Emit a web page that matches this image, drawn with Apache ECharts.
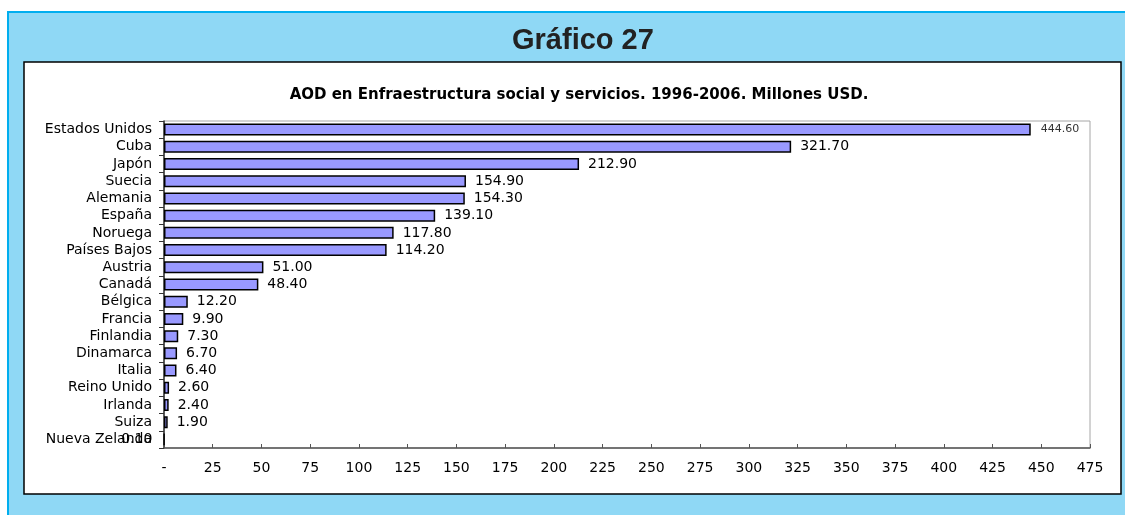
<!DOCTYPE html>
<html>
<head>
<meta charset="utf-8">
<script src="https://cdn.jsdelivr.net/npm/echarts@6/dist/echarts.min.js"></script>
<style>
  html, body { margin: 0; padding: 0; background: #fff; }
  #chart { width: 1125px; height: 515px; }
</style>
</head>
<body>
<div id="chart"></div>
<script>
const countries = ['Estados Unidos', 'Cuba', 'Japón', 'Suecia', 'Alemania', 'España', 'Noruega',
    'Países Bajos', 'Austria', 'Canadá', 'Bélgica', 'Francia', 'Finlandia', 'Dinamarca', 'Italia',
    'Reino Unido', 'Irlanda', 'Suiza', 'Nueva Zelanda'];
const amounts = [444.6, 321.7, 212.9, 154.9, 154.3, 139.1, 117.8, 114.2, 51.0, 48.4, 12.2, 9.9,
    7.3, 6.7, 6.4, 2.6, 2.4, 1.9, 0.1];
const xTicks = { min: 0, max: 475, step: 25 };

const font = '"Liberation Sans", Arial, sans-serif';
const wide = '"DejaVu Sans", sans-serif';
const chart = echarts.init(document.getElementById('chart'), null, { renderer: 'canvas' });

// first and last bars get their own label style, like the original sheet
const barData = amounts.map((v, i) => {
    const item = { value: v };
    if (i === 0) {
        item.label = { fontSize: 11, color: '#333', distance: 10 };
    }
    if (i === amounts.length - 1) {
        item.label = { position: 'left', distance: 11 };
    }
    return item;
});

const option = {
    animation: false,
    graphic: [
        {
            type: 'rect', z: -10,
            shape: { x: 8, y: 12, width: 1125, height: 510 },
            style: { fill: '#8fd8f5', stroke: '#00aeef', lineWidth: 2 }
        },
        {
            type: 'rect', z: -9,
            shape: { x: 24, y: 62, width: 1097, height: 432 },
            style: { fill: '#fff', stroke: '#000', lineWidth: 1.5 }
        },
        {
            type: 'text', left: 512, top: 26,
            style: { text: 'Gráfico 27', font: 'bold 29px ' + font, fill: '#222' }
        }
    ],
    title: {
        text: 'AOD en Enfraestructura social y servicios. 1996-2006. Millones USD.',
        left: 574, top: 83, textAlign: 'center',
        textStyle: { fontFamily: wide, fontSize: 15, fontWeight: 'bold', color: '#000' }
    },
    grid: {
        left: 164, right: 35, top: 121, bottom: 67,
        show: true, borderColor: '#a6a6a6', borderWidth: 1, backgroundColor: 'transparent'
    },
    xAxis: {
        type: 'value',
        min: xTicks.min, max: xTicks.max, interval: xTicks.step,
        axisLine: { show: true, lineStyle: { color: '#555', width: 1.5 } },
        axisTick: { show: true, inside: true, length: 4, lineStyle: { color: '#555' } },
        splitLine: { show: false },
        axisLabel: {
            fontFamily: wide, fontSize: 14, color: '#000', margin: 13,
            formatter: v => v === 0 ? '-' : String(v)
        }
    },
    yAxis: {
        type: 'category',
        data: countries,
        inverse: true,
        axisLine: { show: true, lineStyle: { color: '#333', width: 1.5 } },
        axisTick: { show: true, length: 5, interval: 0, lineStyle: { color: '#333' } },
        axisLabel: { interval: 0, fontFamily: wide, fontSize: 14, color: '#000', margin: 12 }
    },
    series: [{
        type: 'bar',
        data: barData,
        barWidth: 12,
        itemStyle: { color: '#9999ff', borderColor: '#000', borderWidth: 1.5 },
        label: {
            show: true, position: 'right', distance: 9,
            fontFamily: wide, fontSize: 14, color: '#000',
            formatter: p => p.value.toFixed(2)
        }
    }]
};

chart.setOption(option);
</script>
</body>
</html>
